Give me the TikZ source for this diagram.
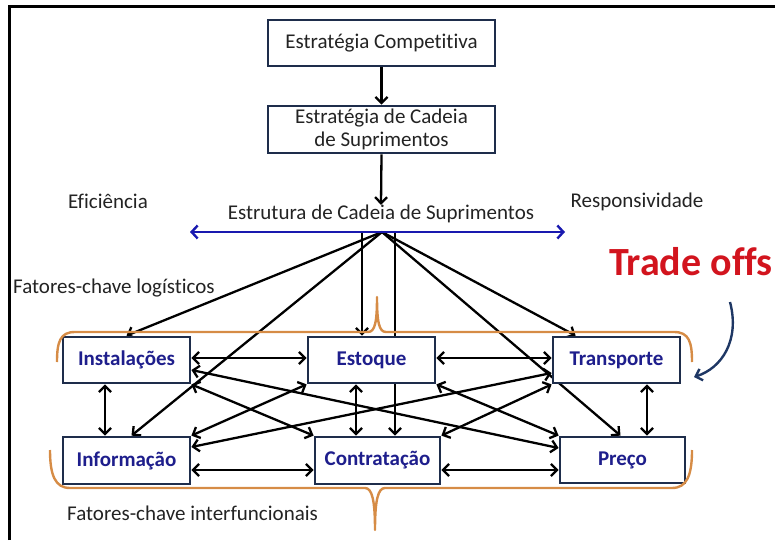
\documentclass[tikz,border=0pt]{standalone}
\usepackage{fontspec}
\setmainfont{Carlito}[Ligatures=NoCommon]
\usetikzlibrary{arrows.meta,backgrounds,calc}
\definecolor{navy}{RGB}{30,30,140}
\definecolor{boxline}{RGB}{30,45,75}
\definecolor{bracecol}{RGB}{214,140,70}
\definecolor{bluearr}{RGB}{25,25,175}
\definecolor{tored}{RGB}{210,20,30}
\definecolor{curvecol}{RGB}{30,55,100}
\definecolor{txt}{RGB}{35,35,35}
\tikzset{
 topbox/.style={draw=boxline, line width=2.8pt, fill=white, minimum width=227pt, minimum height=46pt, inner sep=0pt, align=center, font=\fontsize{21}{22.5}\selectfont, text=txt},
 factor/.style={draw=boxline, line width=2.8pt, fill=white, minimum width=127pt, minimum height=46pt, inner sep=0pt, font=\fontsize{21}{24}\selectfont\bfseries, text=navy},
 lbl/.style={font=\fontsize{21}{24}\selectfont, text=txt, inner sep=0pt},
 barb/.tip={Straight Barb[length=6pt,width=12pt]},
 conn/.style={line width=2.3pt, black, -barb},
 dconn/.style={line width=2.3pt, black, barb-barb},
 bracepath/.style={draw=bracecol, line width=2.4pt, line join=round}
}
\begin{document}
\begin{tikzpicture}[x=1pt,y=-1pt]
\useasboundingbox (0,0) rectangle (775,540);
\draw[line width=3pt] (9,540) -- (9,7) -- (775,7);

% top boxes and labels
\node[topbox] (comp) at (381.5,43) {Estratégia Competitiva};
\node[topbox, minimum height=47pt] (scs) at (381.5,129.5) {Estratégia de Cadeia\\de Suprimentos};
\node[lbl] (estr) at (381,214) {Estrutura de Cadeia de Suprimentos};
\node[lbl] (efic) at (108,201) {Eficiência};
\node[lbl] (resp) at (637,202) {Responsividade};
\node[font=\fontsize{40}{44}\selectfont\bfseries, text=tored, inner sep=0pt] (trade) at (691,262) {Trade offs};
\node[lbl, anchor=west] (fcl) at (13,288) {Fatores-chave logísticos};
\node[lbl, anchor=west] (fci) at (67,513) {Fatores-chave interfuncionais};

% factor boxes
\node[factor] (inst) at (126.5,360) {Instalações};
\node[factor] (estq) at (371.5,360) {Estoque};
\node[factor] (trans) at (616.5,360) {Transporte};
\node[factor, minimum height=47pt] (info) at (126.5,460.5) {Informação};
\node[factor, minimum width=125pt, minimum height=47pt] (contr) at (377.5,460.5) {Contratação};
\node[factor, minimum width=125pt] (preco) at (622.5,460) {Preço};

\coordinate (hub) at (382,232);
\coordinate (v1) at (362,232);
\coordinate (v2) at (395,232);
\coordinate (bl) at (190,232);
\coordinate (br) at (565,232);
\coordinate (ca) at (730,302);
\coordinate (cb) at (694,377);

\draw[conn] (comp.south) -- (scs.north);
\draw[conn] (scs.south) -- (estr.north);

\begin{scope}[on background layer]
\draw[conn] (hub) -- (inst.north);
\draw[conn] (hub) -- ($(info.north)+(5,0)$);
\draw[conn] (v1) -- (v1 |- estq.north);
\draw[conn] (v2) -- (v2 |- contr.north);
\draw[conn] (hub) -- ($(trans.north west)+(24,0)$);
\draw[conn] (hub) -- ($(preco.north)+(-2,0)$);

\draw[dconn] ($(inst.east)+(0,-2)$) -- ($(estq.west)+(0,-2)$);
\draw[dconn] ($(estq.east)+(0,-2)$) -- ($(trans.west)+(0,-2)$);
\draw[dconn] ($(info.east)+(0,9.5)$) -- ($(contr.west)+(0,9.5)$);
\draw[dconn] ($(contr.east)+(0,9.5)$) -- ($(preco.west)+(0,10)$);
\draw[dconn] ($(inst.south)+(-21.5,0)$) -- ($(info.north)+(-21.5,0)$);
\draw[dconn] ($(estq.south)+(-15.5,0)$) -- ($(contr.north)+(-21.5,0)$);
\draw[dconn] ($(trans.south)+(30.5,0)$) -- ($(preco.north)+(24.5,0)$);
\draw[dconn] (inst.south east) -- (contr.north west);
\draw[dconn] ($(inst.east)+(0,10)$) -- ($(preco.west)+(0,-12)$);
\draw[dconn] (estq.south east) -- (preco.north west);
\draw[dconn] (info.north east) -- (estq.south west);
\draw[dconn] ($(info.east)+(0,-13.5)$) -- ($(trans.west)+(0,13)$);
\draw[dconn] (contr.north east) -- (trans.south west);
\end{scope}

\draw[line width=2.4pt, bluearr, {Straight Barb[length=6pt,width=13pt]}-{Straight Barb[length=6pt,width=13pt]}] (bl) -- (br);

% braces
\draw[bracepath] (57,362) .. controls (57,342) and (60,332) .. (75,332) -- (368,332) .. controls (375,332) and (377,322) .. (377,297) .. controls (377,322) and (379,332) .. (386,332) -- (674,332) .. controls (689,332) and (692,342) .. (692,362);
\draw[bracepath] (50,450) .. controls (50,475) and (55,488) .. (70,488) -- (365,488) .. controls (372,488) and (375,500) .. (375,530) .. controls (375,500) and (378,488) .. (385,488) -- (672,488) .. controls (687,488) and (692,475) .. (692,450);

% curved arrow
\draw[line width=2.4pt, curvecol, -{Straight Barb[length=6pt,width=12pt]}] (ca) .. controls (740,340) and (722,368) .. (cb);
\end{tikzpicture}
\end{document}
